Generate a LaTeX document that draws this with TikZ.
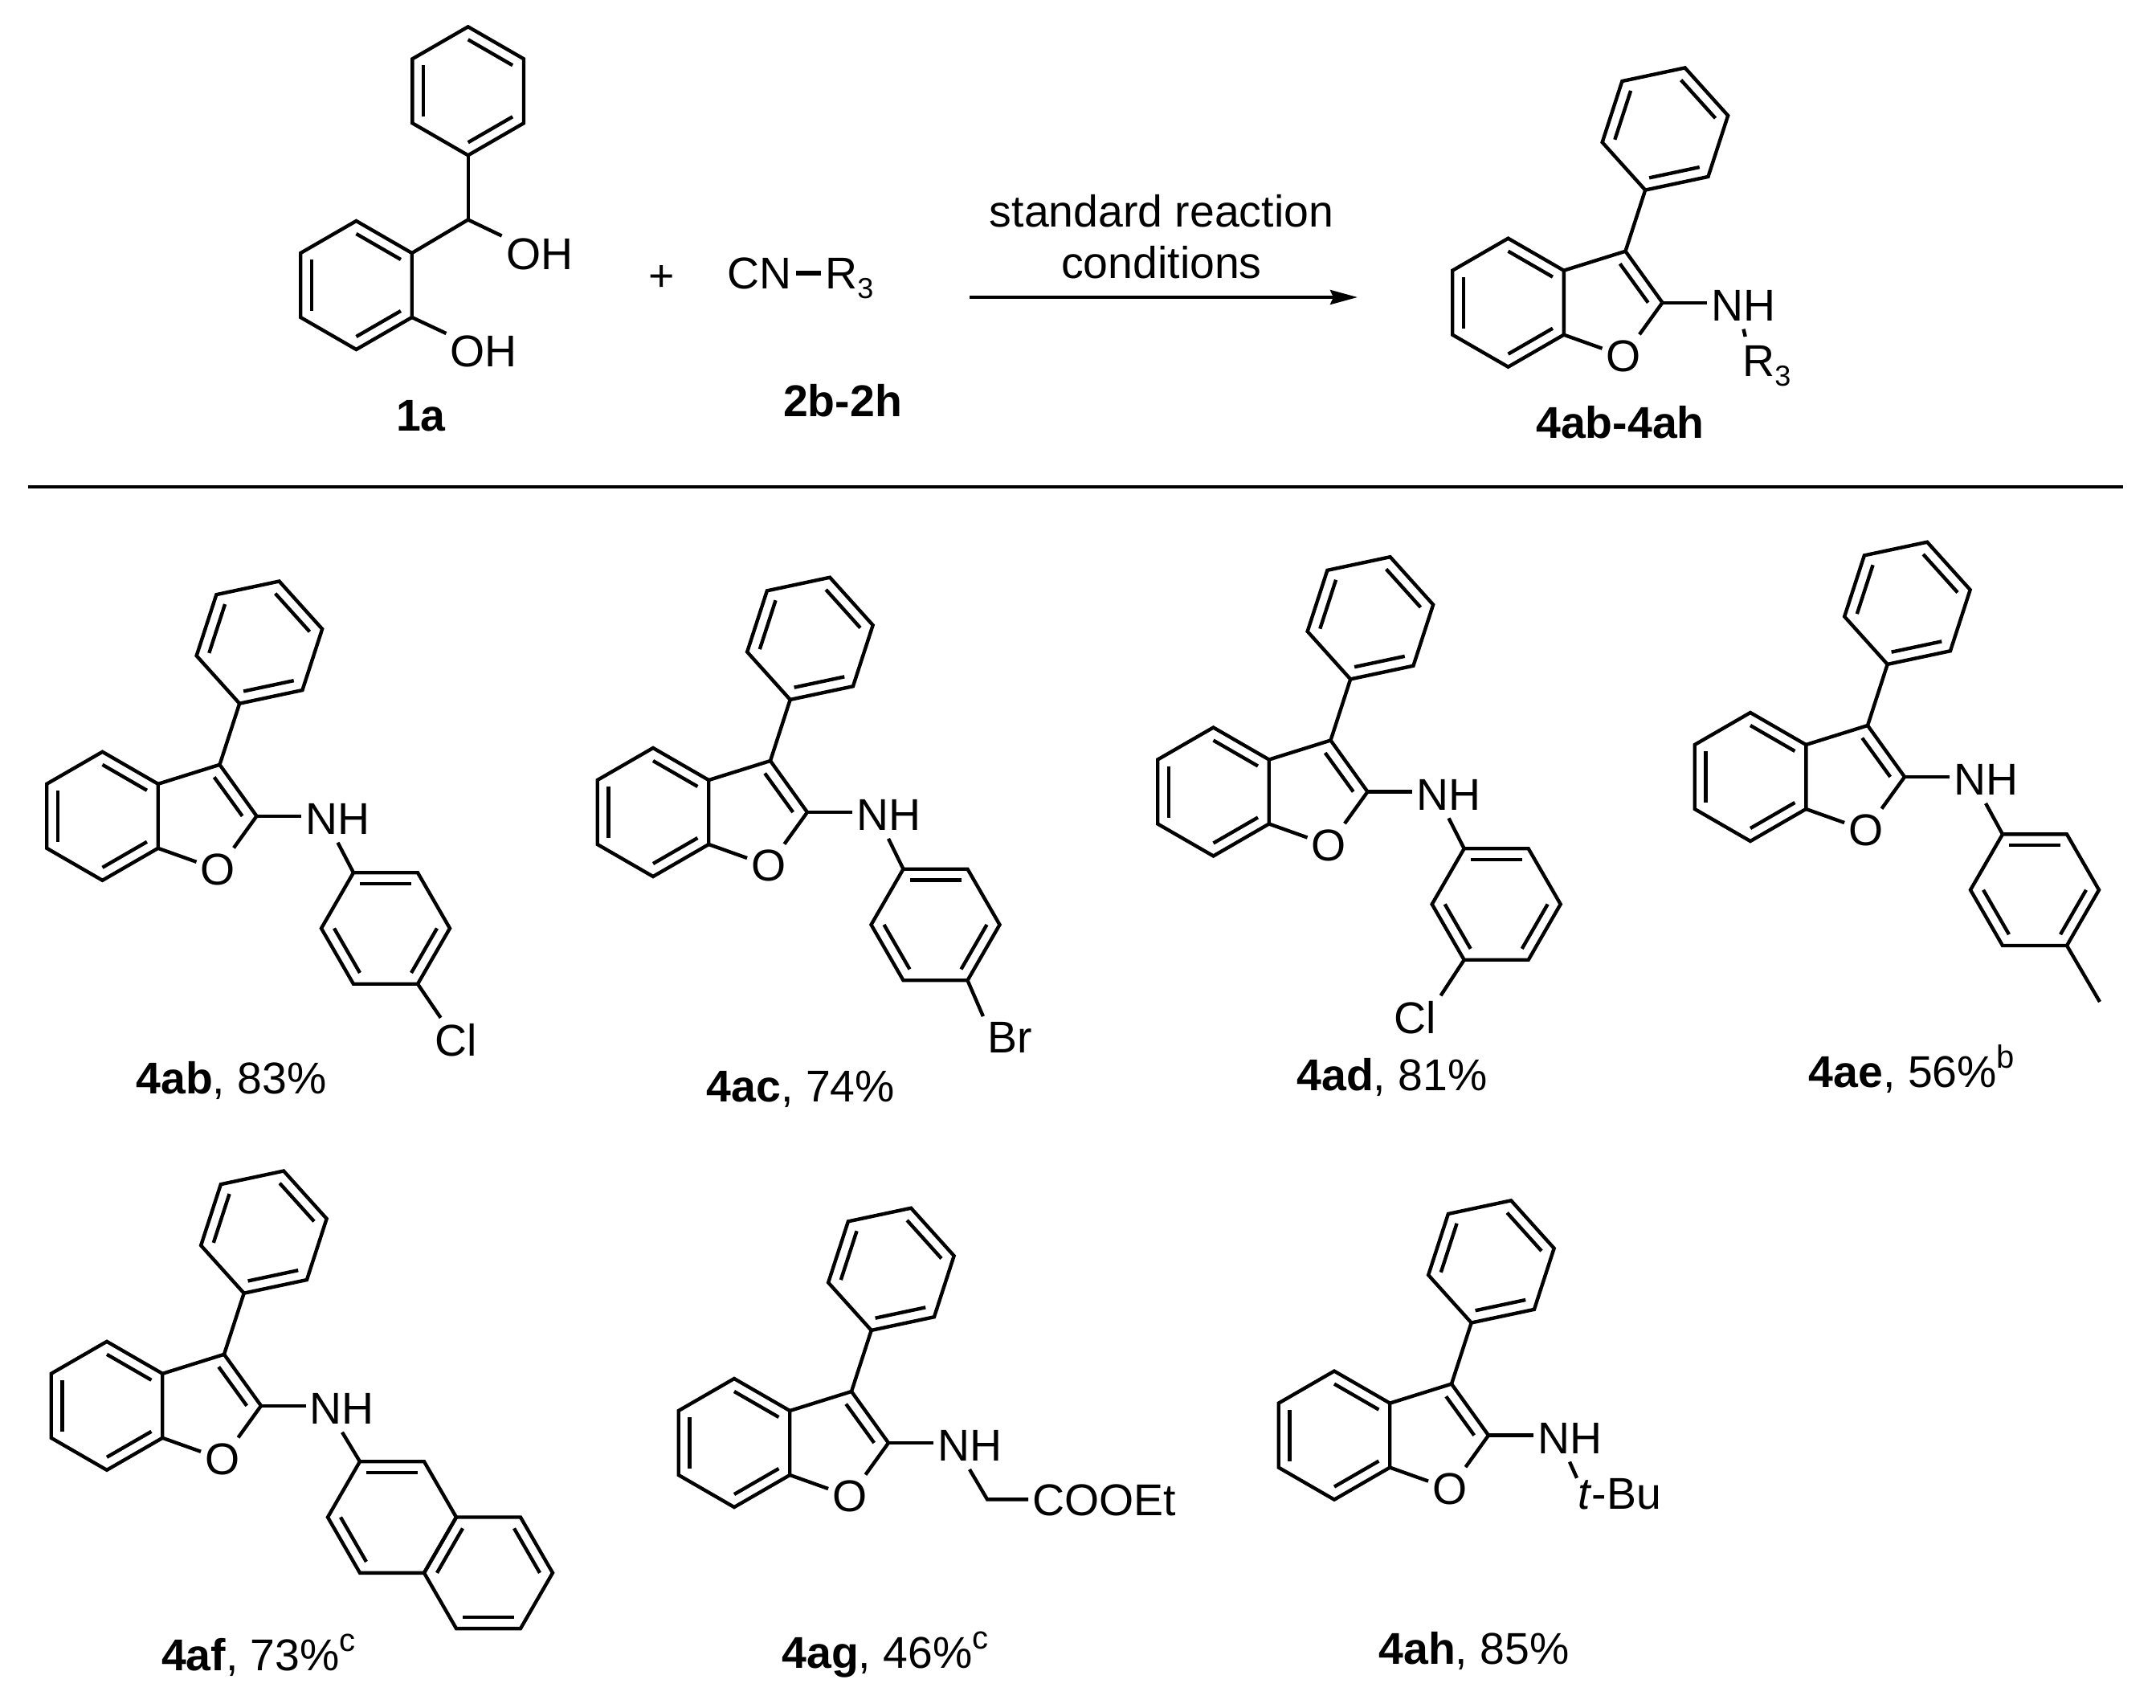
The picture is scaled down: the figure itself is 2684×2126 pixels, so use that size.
\documentclass[tikz,border=0pt]{standalone}
\usepackage{fontspec}
\setmainfont{Liberation Sans}
\usetikzlibrary{calc,arrows.meta}

% six-membered ring: name, centre x, centre y, first angle, double bonds
\newcommand{\hexring}[5]{%
    \foreach \k in {1,...,6}
        \coordinate (#1\k) at ({#2+80*cos(#4+60*\k)},{#3+80*sin(#4+60*\k)});
    \coordinate (#1) at (#2,#3);
    \draw[bond] (#11) -- (#12) -- (#13) -- (#14) -- (#15) -- (#16) -- cycle;
    \foreach \k/\m in {#5}
        \draw[bond] ($(#1)!.8!(#1\k)$) -- ($(#1)!.8!(#1\m)$);
}
% 3-phenylbenzofuran with its NH: name, centre x, centre y of the benzene ring
\newcommand{\core}[3]{%
    \hexring{#1b}{#2}{#3}{30}{2/3,4/5,6/1}
    \hexring{#1p}{#2+195.4}{#3-216.2}{48}{2/3,4/5,6/1}
    \coordinate (#1c3) at (#2+146,#3-64);
    \coordinate (#1c2) at (#2+192,#3);
    \coordinate (#1i3) at (#2+139.2,#3-48.4);
    \coordinate (#1i2) at (#2+174.2,#3);
    \node[atom] (#1o) at (#2+144,#3+66.6) {O};
    \node[atom,inner ysep=5pt] (#1nh) at (#2+293,#3+3.5) {NH};
    \draw[bond] (#1b5) -- (#1c3) -- (#1c2);
    \draw[bond] (#1i3) -- (#1i2);
    \draw[bond] (#1c3) -- (#1p1);
    \draw[bond] (#1b6) -- (#1o);
    \draw[bond] (#1c2) -- (#1o);
    \draw[bond] (#1c2) -- (#1c2 -| #1nh.west);
}
\newcommand{\supmark}[1]{\raisebox{12pt}{\fontsize{20}{20}\selectfont #1}}
\newcommand{\rthree}{R\raisebox{-6pt}{\fontsize{18}{18}\selectfont 3}}

\begin{document}
\begin{tikzpicture}[x=0.5pt,y=-0.5pt,>={Stealth[length=17pt,width=9pt,inset=2pt]},font=\fontsize{27.7}{32}\selectfont]
    \tikzstyle{bond}=[line width=2.2pt]
    \tikzstyle{atom}=[inner xsep=2.5pt,inner ysep=3.5pt]
    \tikzstyle{lab}=[inner sep=0pt,anchor=base]
    \useasboundingbox (0,0) rectangle (2684,2126);

    % starting materials
    \hexring{ap}{582.7}{113.3}{30}{2/3,4/5,6/1}
    \hexring{ar}{443.5}{355}{30}{2/3,4/5,6/1}
    \coordinate (ach) at (582.7,273.5);
    \node[atom] (aoh1) at (671.6,316) {OH};
    \node[atom] (aoh2) at (602.4,437) {OH};
    \draw[bond] (ap1) -- (ach);
    \draw[bond] (ach) -- (ar5);
    \draw[bond] (ach) -- (aoh1);
    \draw[bond] (ar6) -- (aoh2);
    \node[lab] (a1) at (524,536) {\textbf{1a}};
    \node[atom] (plus) at (824,347) {+};
    \node[atom,anchor=base west] (cn) at (900,359) {CN};
    \node[atom,anchor=base west] (rthree) at (1022,359) {\rthree};
    \draw[line width=3.4pt] (cn.east) -- (cn.east -| rthree.west);
    \node[lab] (b2) at (1049,518.7) {\textbf{2b-2h}};

    % arrow
    \coordinate (arrow1) at (1207,370);
    \coordinate (arrow2) at (1690,370);
    \draw[line width=2pt,->] (arrow1) -- (arrow2);
    \node[atom,align=center] (cond) at (1446,295) {standard reaction\\conditions};

    % product
    \core{pr}{1877.5}{376.7}
    \coordinate (prr) at (2172.7,419);
    \node[atom,anchor=base west] (prr3) at (2164,468) {\rthree};
    \draw[bond] (prnh.south) -- (prr);
    \node[lab] (p4) at (2017,545) {\textbf{4ab-4ah}};

    % rule
    \coordinate (rule1) at (35,606);
    \coordinate (rule2) at (2643,606);
    \draw[line width=2pt] (rule1) -- (rule2);

    % 4ab
    \core{ab}{127.5}{1015.8}
    \hexring{abr}{480}{1155.5}{180}{1/2,3/4,5/6}
    \node[atom] (abcl) at (567.5,1294.6) {Cl};
    \draw[bond] (abnh.south) -- (abr1);
    \draw[bond] (abr4) -- (abcl);
    \node[lab] (l4ab) at (288,1361.6) {\textbf{4ab}, 83\%};

    % 4ac
    \core{ac}{813}{1011}
    \hexring{acr}{1164.5}{1151}{180}{1/2,3/4,5/6}
    \node[atom] (acbr) at (1257,1291.5) {Br};
    \draw[bond] (acnh.south) -- (acr1);
    \draw[bond] (acr4) -- (acbr.north west);
    \node[lab] (l4ac) at (997,1371.3) {\textbf{4ac}, 74\%};

    % 4ad
    \core{ad}{1510.5}{985.5}
    \hexring{adr}{1862.7}{1125.5}{180}{1/2,3/4,5/6}
    \node[atom] (adcl) at (1762,1267) {Cl};
    \draw[bond] (adnh.south) -- (adr1);
    \draw[bond] (adr5) -- (adcl.north east);
    \node[lab] (l4ad) at (1733,1357.6) {\textbf{4ad}, 81\%};

    % 4ae
    \core{ae}{2179}{967}
    \hexring{aer}{2533}{1107.7}{180}{1/2,3/4,5/6}
    \coordinate (aeme) at (2614,1247);
    \draw[bond] (aenh.south) -- (aer1);
    \draw[bond] (aer4) -- (aeme);
    \node[lab] (l4ae) at (2380,1353) {\textbf{4ae}, 56\%\supmark{b}};

    % 4af
    \core{af}{133}{1749.8}
    \hexring{afr}{488}{1888.5}{180}{1/2,5/6}
    \hexring{afs}{608}{1957.8}{180}{6/1,2/3,4/5}
    \draw[bond] (afnh.south) -- (afr1);
    \node[lab] (l4af) at (322,2079) {\textbf{4af}, 73\%\supmark{c}};

    % 4ag
    \core{ag}{914}{1796}
    \coordinate (agch) at (1229,1866.3);
    \node[atom,anchor=west] (agest) at (1280,1867.5) {COOEt};
    \draw[bond] (agnh.south) -- (agch) -- (agch -| agest.west);
    \node[lab] (l4ag) at (1102,2076) {\textbf{4ag}, 46\%\supmark{c}};

    % 4ah
    \core{ah}{1661}{1786.6}
    \coordinate (ahtb) at (1963,1839.7);
    \node[atom,anchor=base west] (ahtbu) at (1959,1878) {\textit{t}-Bu};
    \draw[bond] (ahnh.south) -- (ahtb);
    \node[lab] (l4ah) at (1835,2071) {\textbf{4ah}, 85\%};
\end{tikzpicture}
\end{document}
